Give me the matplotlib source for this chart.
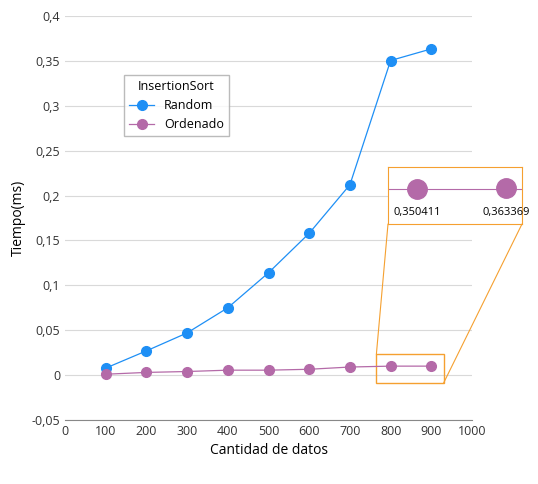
import numpy as np
import matplotlib.pyplot as plt
from matplotlib.ticker import FuncFormatter
from matplotlib.patches import Rectangle, ConnectionPatch

n = [100, 200, 300, 400, 500, 600, 700, 800, 900]
random_t = [0.0078, 0.027, 0.047, 0.075, 0.114, 0.158, 0.212, 0.350411, 0.363369]
ordenado_t = [0.001, 0.003, 0.004, 0.0055, 0.0055, 0.0065, 0.009, 0.010, 0.010]
zoom_labels = ['0,350411', '0,363369']

plt.rcParams['font.family'] = ['Open Sans', 'DejaVu Sans']
fig = plt.figure(figsize=(5.38, 4.84), dpi=100)
ax = fig.add_axes([65/538, 1-420/484, 407/538, 404/484])

blue = '#1e8ff5'
purple = '#b46aa8'
ax.plot(n, random_t, '-o', color=blue, lw=0.9, ms=7, label='Random')
ax.plot(n, ordenado_t, '-o', color=purple, lw=0.9, ms=7, label='Ordenado')

ax.set_xlim(0, 1000)
ax.set_ylim(-0.05, 0.4)
ax.set_xticks(range(0, 1001, 100))
ax.set_yticks(np.arange(-0.05, 0.401, 0.05))
ax.yaxis.set_major_formatter(FuncFormatter(lambda v, p: ('%g' % round(v, 3)).replace('.', ',')))
ax.grid(axis='y', color='#d9d9d9', lw=0.8)
ax.set_axisbelow(True)
for s in ['top', 'right', 'left']:
    ax.spines[s].set_visible(False)
ax.spines['bottom'].set_color('#888888')
ax.tick_params(length=0, labelsize=9, colors='#333333')
ax.set_xlabel('Cantidad de datos', fontsize=10)
ax.set_ylabel('Tiempo(ms)', fontsize=10)

leg = ax.legend(title='InsertionSort', loc='upper left', bbox_to_anchor=(0.13, 0.87),
                fontsize=9, title_fontsize=9, fancybox=False, edgecolor='#aaaaaa')

# zoom box
orange = '#f5a030'
rect = Rectangle((765, -0.009), 165, 0.032, fill=False, ec=orange, lw=1)
ax.add_patch(rect)
ins = fig.add_axes([388/538, 1-224/484, 134/538, 57/484])
ins.set_xlim(0, 1)
ins.set_ylim(0, 1)
ins.axhline(0.62, color=purple, lw=0.8)
ins.plot([0.22, 0.88], [0.62, 0.64], 'o', color=purple, ms=14)
for xv, lab in zip([0.22, 0.88], zoom_labels):
    ins.text(xv, 0.2, lab, ha='center', va='center', fontsize=8)
ins.set_xticks([])
ins.set_yticks([])
for s in ins.spines.values():
    s.set_color(orange)
fig.add_artist(ConnectionPatch((765, 0.023), (0, 0), 'data', 'axes fraction',
                               axesA=ax, axesB=ins, color=orange, lw=0.8))
fig.add_artist(ConnectionPatch((930, -0.009), (1, 0), 'data', 'axes fraction',
                               axesA=ax, axesB=ins, color=orange, lw=0.8))

fig.savefig('out.png', dpi=100)
